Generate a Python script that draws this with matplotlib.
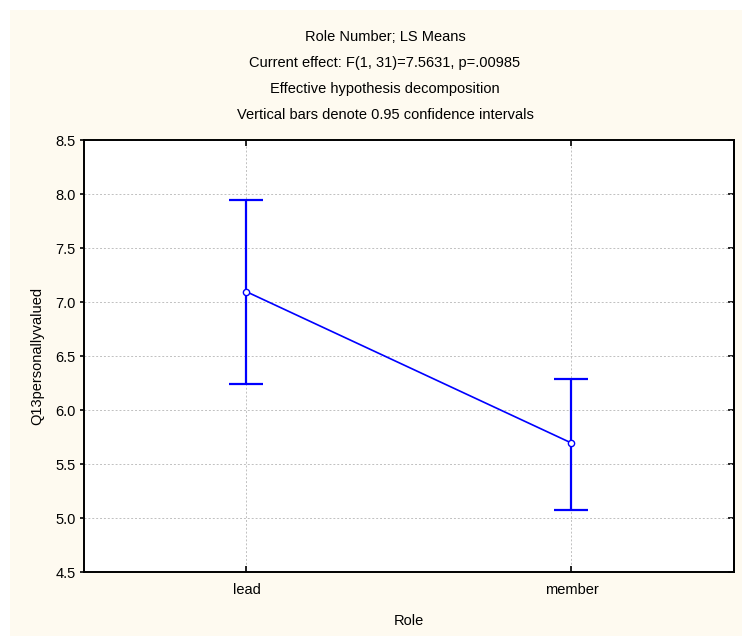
import matplotlib.pyplot as plt
from matplotlib.patches import Rectangle

# LS means with 95% confidence intervals
roles = ["lead", "member"]
means = [7.095, 5.694]
ci_low = [6.238, 5.077]
ci_high = [7.944, 6.284]
yticks = [4.5, 5.0, 5.5, 6.0, 6.5, 7.0, 7.5, 8.0, 8.5]

title_lines = [
    "Role Number; LS Means",
    "Current effect: F(1, 31)=7.5631, p=.00985",
    "Effective hypothesis decomposition",
    "Vertical bars denote 0.95 confidence intervals",
]

plt.rcParams['font.family'] = ['Liberation Sans', 'DejaVu Sans']
plt.rcParams['font.size'] = 10.5

W, H = 742, 636
fig = plt.figure(figsize=(W / 100, H / 100), dpi=100)
fig.patch.set_facecolor('white')

# cream background panel
fig.patches.append(Rectangle((10 / W, 0), 1 - 10 / W, 1 - 10 / H,
                             transform=fig.transFigure, facecolor='#fefaf0',
                             edgecolor='none', zorder=-5))

ax = fig.add_axes([84 / W, (H - 572) / H, 650 / W, 432 / H])
ax.set_facecolor('white')

x = list(range(len(roles)))
yerr = [[m - lo for m, lo in zip(means, ci_low)],
        [hi - m for m, hi in zip(means, ci_high)]]

ax.errorbar(x, means, yerr=yerr, fmt='none', ecolor='#0000ff',
            elinewidth=1.6, capsize=12, capthick=1.6, zorder=3)
ax.plot(x, means, color='#0000ff', lw=1.2, marker='o', markersize=4.5,
        markerfacecolor='white', markeredgecolor='#0000ff',
        markeredgewidth=1.0, zorder=4)

ax.set_xlim(-0.5, 1.5)
ax.set_ylim(4.5, 8.5)
ax.set_xticks(x)
ax.set_xticklabels(roles)
ax.set_yticks(yticks)
ax.yaxis.set_major_formatter(plt.FormatStrFormatter('%.1f'))

ax.grid(True, color='#c0c0c0', linestyle=(0, (2, 2)), linewidth=0.7)
ax.set_axisbelow(True)
for s in ax.spines.values():
    s.set_linewidth(1.4)
    s.set_color('black')

ax.tick_params(axis='y', direction='out', length=3, width=1.2, pad=3)
ax.tick_params(axis='x', direction='in', length=4, width=1.2, pad=8,
               top=True)

# inward ticks on the right side, no labels
sec = ax.secondary_yaxis('right')
sec.set_yticks(yticks)
sec.tick_params(direction='in', length=4, width=1.2, labelright=False)
sec.spines['right'].set_linewidth(1.4)

ax.set_xlabel("Role", labelpad=12)
ax.set_ylabel("Q13personallyvalued", labelpad=8)

for i, line in enumerate(title_lines):
    fig.text(385 / W, 1 - (37 + 26 * i) / H, line, ha='center', va='center')

fig.savefig("out.png", dpi=100, facecolor=fig.get_facecolor())
